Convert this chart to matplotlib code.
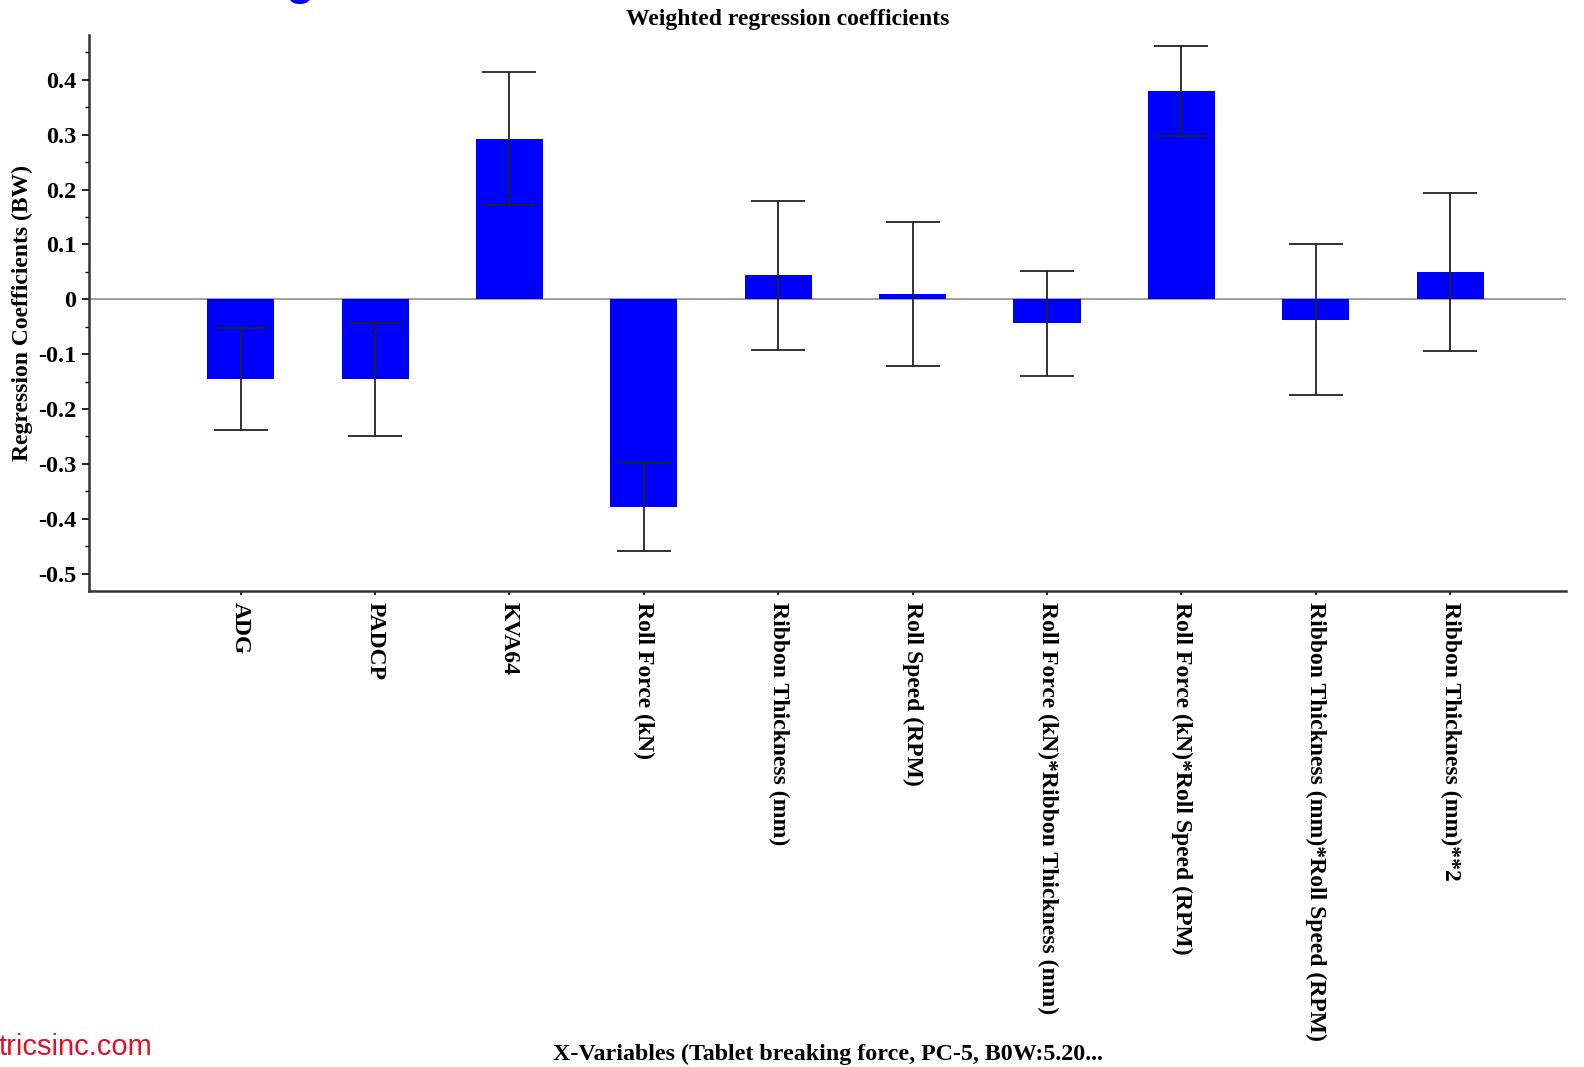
import matplotlib.pyplot as plt
from matplotlib.ticker import MultipleLocator, FuncFormatter

# values
variables = ["ADG", "PADCP", "KVA64", "Roll Force (kN)", "Ribbon Thickness (mm)",
             "Roll Speed (RPM)", "Roll Force (kN)*Ribbon Thickness (mm)",
             "Roll Force (kN)*Roll Speed (RPM)", "Ribbon Thickness (mm)*Roll Speed (RPM)",
             "Ribbon Thickness (mm)**2"]
coefs = [-0.146, -0.146, 0.293, -0.379, 0.044, 0.009, -0.044, 0.379, -0.037, 0.050]
errors = [0.093, 0.103, 0.122, 0.080, 0.136, 0.131, 0.096, 0.082, 0.137, 0.144]

serif = "Liberation Serif"
fs = 17

fig = plt.figure(figsize=(15.84, 10.67), dpi=100)
ax = fig.add_axes([0.0561, 0.446, 0.9324, 0.5208])

x = list(range(len(variables)))
ax.bar(x, coefs, width=0.5, color="#0000ff", zorder=2)
ax.errorbar(x, coefs, yerr=errors, fmt="none", ecolor="#222222",
            elinewidth=1.3, capsize=19.5, capthick=1.3, zorder=3)
ax.axhline(0, color="#909090", lw=1.2, zorder=1)

ax.set_xlim(-1.13, 9.86)
ax.set_ylim(-0.532, 0.481)

for s in ["top", "right"]:
    ax.spines[s].set_visible(False)
for s in ["left", "bottom"]:
    ax.spines[s].set_linewidth(1.8)
    ax.spines[s].set_color("#333333")

ax.yaxis.set_major_locator(MultipleLocator(0.1))
ax.yaxis.set_minor_locator(MultipleLocator(0.05))
ax.yaxis.set_major_formatter(FuncFormatter(
    lambda v, p: "0" if abs(v) < 1e-9 else ("%.1f" % v).replace("\u2212", "-")))
ax.tick_params(axis="y", which="major", length=5, width=1.2, pad=4)
ax.tick_params(axis="y", which="minor", length=3, width=1.0)
ax.tick_params(axis="x", length=3, width=1.2, pad=5)

ax.set_xticks(x)
ax.set_xticklabels(variables, rotation=-90, va="top", ha="center",
                   fontfamily=serif, fontweight="bold", fontsize=fs)
for lab in ax.get_yticklabels():
    lab.set_fontfamily(serif)
    lab.set_fontweight("bold")
    lab.set_fontsize(17.5)

fig.text(0.014, 0.707, "Regression Coefficients (BW)", rotation=90, ha="center", va="center",
         fontfamily=serif, fontweight="bold", fontsize=fs)
fig.text(0.497, 0.982, "Weighted regression coefficients", ha="center", va="center",
         fontfamily=serif, fontweight="bold", fontsize=fs)
fig.text(0.523, 0.0115, "X-Variables (Tablet breaking force, PC-5, B0W:5.20...",
         ha="center", va="center", fontfamily=serif, fontweight="bold", fontsize=17.3)

# watermark fragments visible at the page edges
fig.text(-0.001, 0.011, "tricsinc.com", color="#e0102a", ha="left", va="baseline",
         fontfamily="Liberation Sans", fontsize=21)
fig.text(0.180, 1.006, "g", color="#0000ff", ha="left", va="baseline",
         fontfamily="Liberation Sans", fontweight="bold", fontsize=34)

fig.savefig("out.png", dpi=100)
